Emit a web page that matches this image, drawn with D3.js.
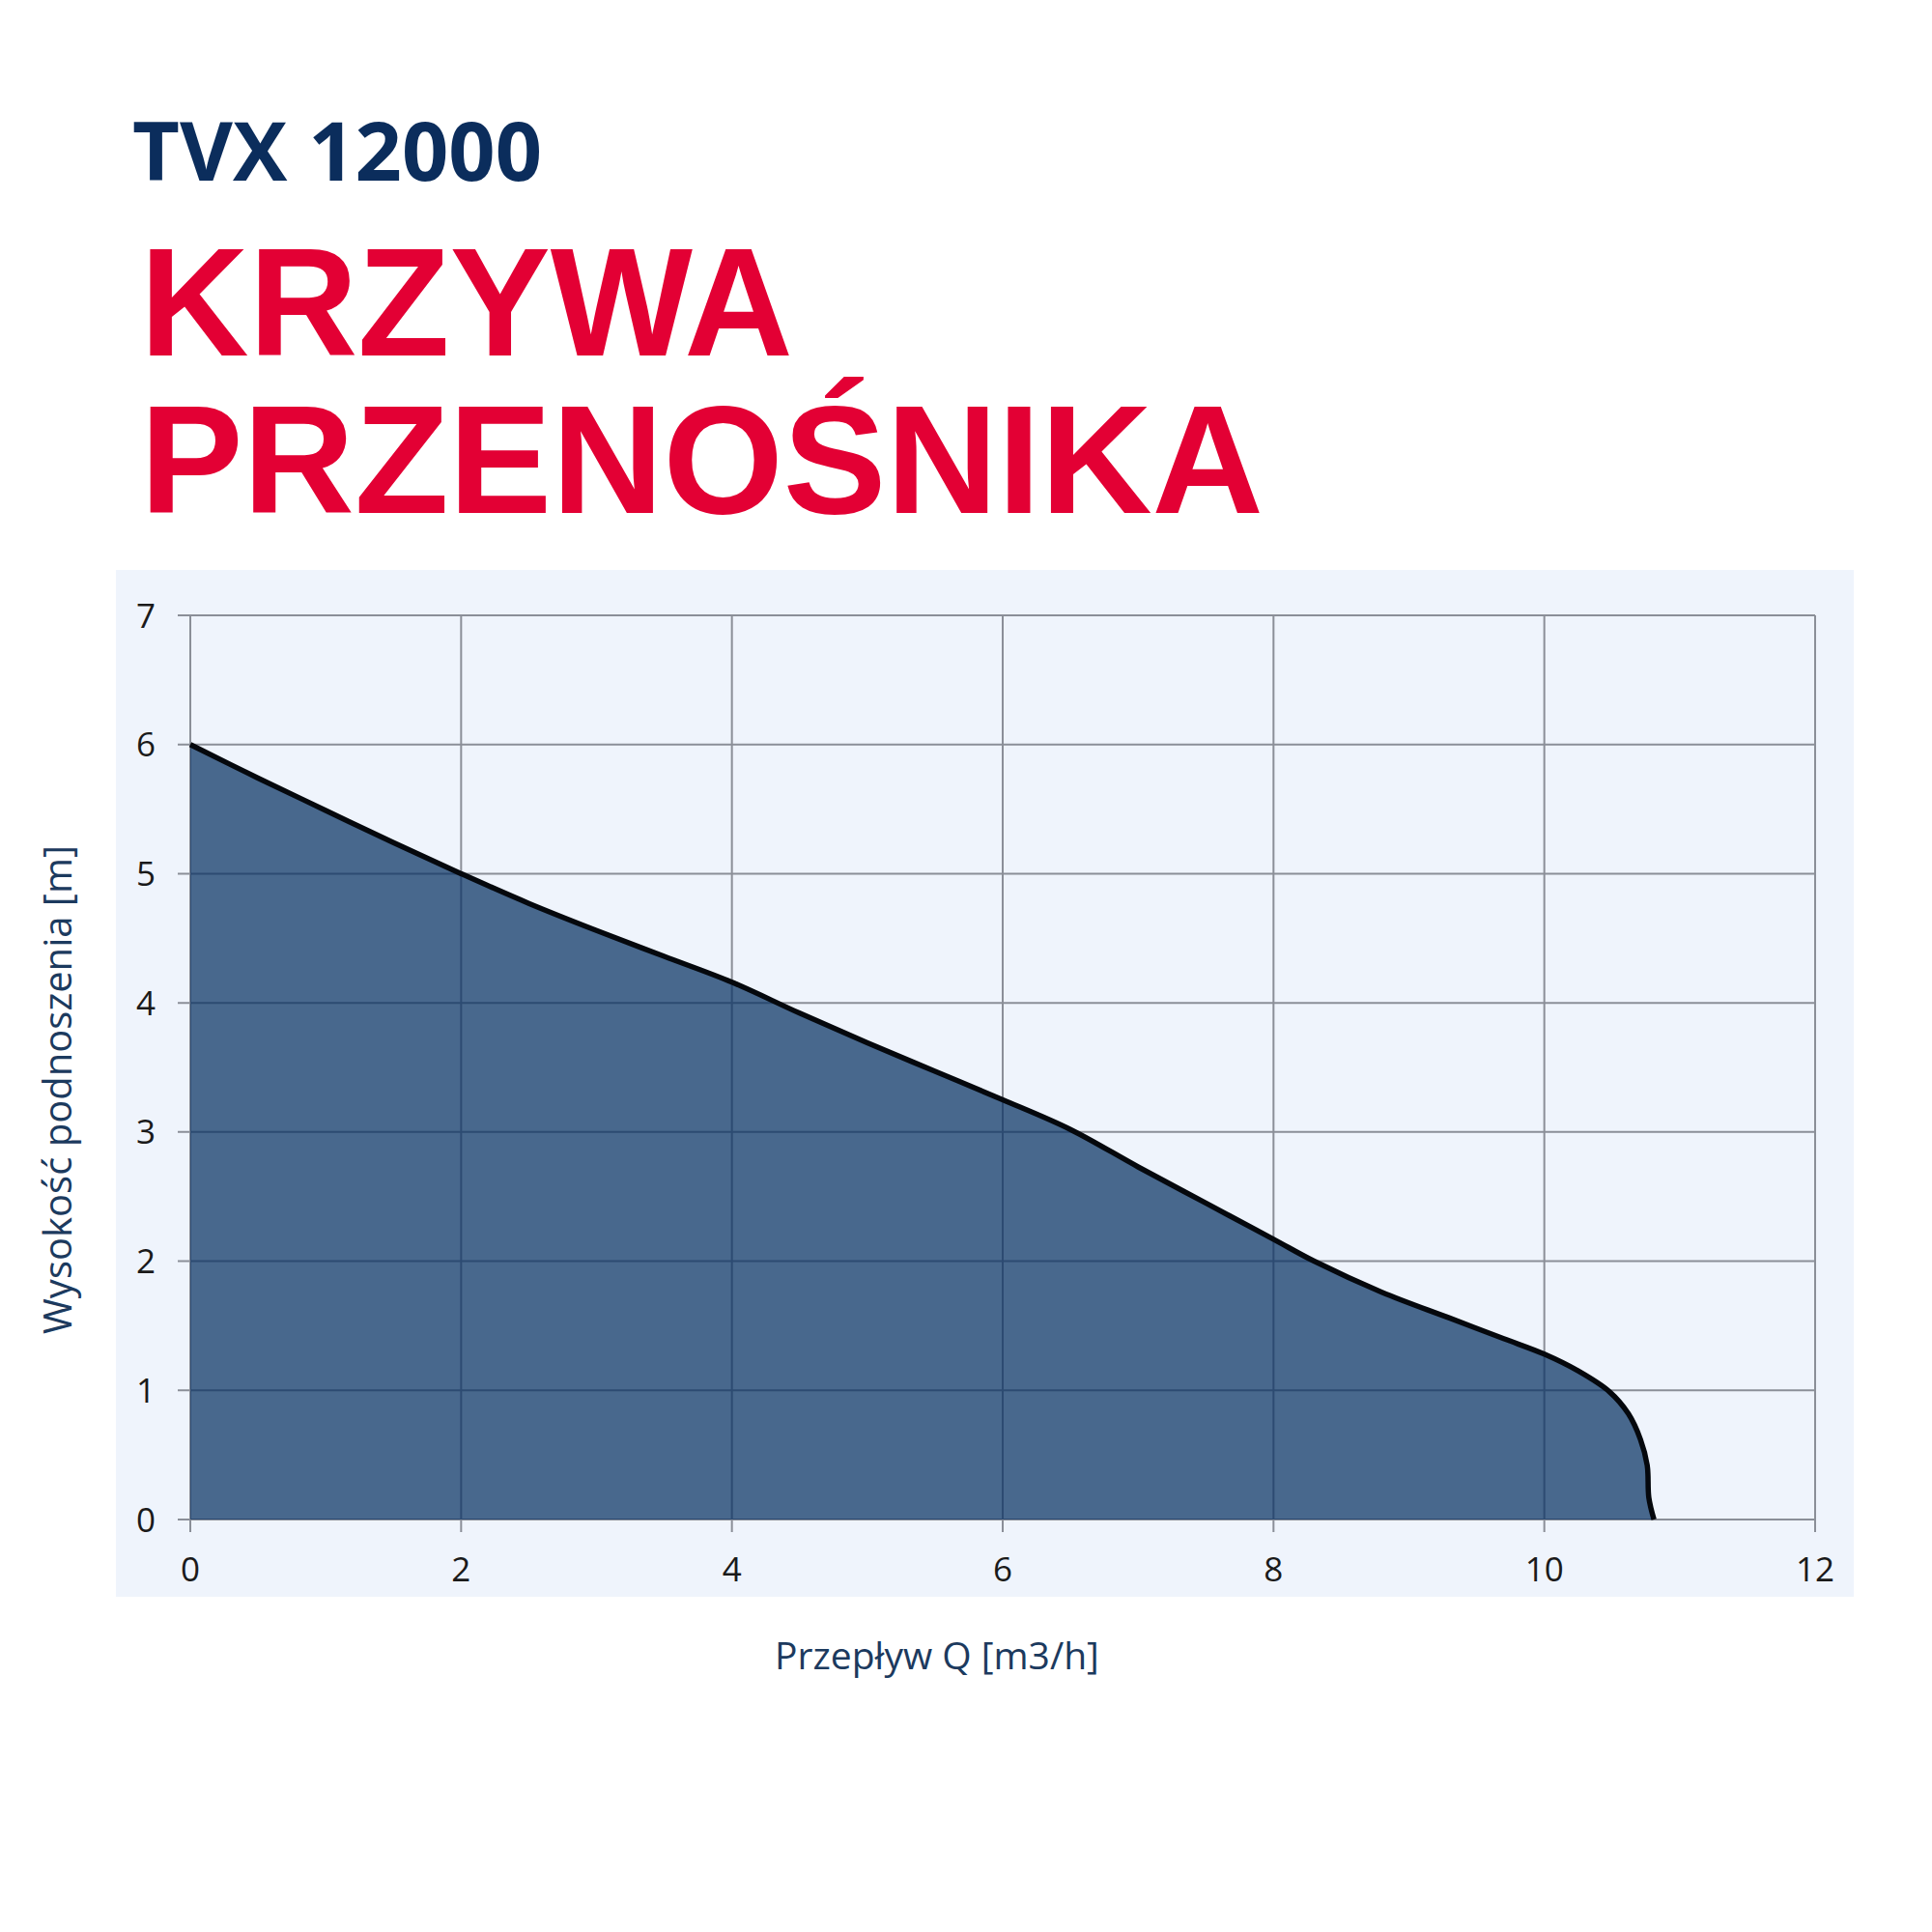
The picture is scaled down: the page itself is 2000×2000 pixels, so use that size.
<!DOCTYPE html>
<html>
<head>
<meta charset="utf-8">
<title>TVX 12000 - krzywa przenośnika</title>
<script src="https://d3js.org/d3.v7.min.js"></script>
<style>
body{
	margin: 0;
	background: #fff;
}
</style>
</head>
<body>
<div id="chart"></div>
<script>

// pump curve
var flow = [0, 0.5, 1, 1.5, 2, 2.5, 3, 3.5, 4, 4.5, 5, 5.5, 6, 6.5, 7, 7.5, 8, 8.3, 8.8, 9.3, 9.7, 10, 10.25, 10.48, 10.62, 10.71, 10.76, 10.772, 10.81];
var head = [6.0, 5.74, 5.49, 5.24, 5.0, 4.77, 4.56, 4.36, 4.16, 3.92, 3.69, 3.47, 3.25, 3.02, 2.73, 2.45, 2.17, 2.0, 1.76, 1.56, 1.40, 1.28, 1.15, 0.99, 0.82, 0.62, 0.42, 0.17, 0];
var xTicks = [0, 2, 4, 6, 8, 10, 12];
var yTicks = [0, 1, 2, 3, 4, 5, 6, 7];

var W = 2000, H = 2000;
var plot = {left: 197, right: 1879, top: 637, bottom: 1573};
var tickLen = 13;

var svg = d3.select("#chart")
	.append("svg")
	.attr("width", W)
	.attr("height", H);

// titles
svg.append("text")
	.attr("x", 137).attr("y", 187)
	.attr("font-family", "'Open Sans', sans-serif")
	.attr("font-weight", 700)
	.attr("font-size", 84)
	.attr("fill", "#0b2d5c")
	.attr("textLength", 424)
	.attr("lengthAdjust", "spacingAndGlyphs")
	.text("TVX 12000");

svg.append("text")
	.attr("x", 145).attr("y", 368)
	.attr("font-family", "'Liberation Sans', Arial, sans-serif")
	.attr("font-weight", 700)
	.attr("font-size", 160)
	.attr("fill", "#e30034")
	.attr("textLength", 676)
	.attr("lengthAdjust", "spacingAndGlyphs")
	.text("KRZYWA");

svg.append("text")
	.attr("x", 145).attr("y", 531)
	.attr("font-family", "'Liberation Sans', Arial, sans-serif")
	.attr("font-weight", 700)
	.attr("font-size", 160)
	.attr("fill", "#e30034")
	.attr("textLength", 1163)
	.attr("lengthAdjust", "spacingAndGlyphs")
	.text("PRZENOŚNIKA");

// panel behind the chart
svg.append("rect")
	.attr("x", 120).attr("y", 590)
	.attr("width", 1799).attr("height", 1063)
	.attr("fill", "#eff4fc");

var x = d3.scaleLinear().domain([0, 12]).range([plot.left, plot.right]);
var y = d3.scaleLinear().domain([0, 7]).range([plot.bottom, plot.top]);

// grid drawn twice: gray on the panel, dark blue where it sits on the filled area
function drawGrid(g, colour) {
	g.selectAll("line.v")
		.data(xTicks)
		.join("line")
		.attr("class", "v")
		.attr("x1", d => x(d)).attr("x2", d => x(d))
		.attr("y1", plot.top).attr("y2", plot.bottom + tickLen)
		.attr("stroke", colour)
		.attr("stroke-width", 2);
	g.selectAll("line.h")
		.data(yTicks)
		.join("line")
		.attr("class", "h")
		.attr("y1", d => y(d)).attr("y2", d => y(d))
		.attr("x1", plot.left - tickLen).attr("x2", plot.right)
		.attr("stroke", colour)
		.attr("stroke-width", 2);
}

drawGrid(svg.append("g"), "#8b8f98");

var pts = flow.map((q, i) => [q, head[i]]);

var area = d3.area()
	.x(d => x(d[0]))
	.y0(y(0))
	.y1(d => y(d[1]))
	.curve(d3.curveCatmullRom.alpha(0.5));

var line = d3.line()
	.x(d => x(d[0]))
	.y(d => y(d[1]))
	.curve(d3.curveCatmullRom.alpha(0.5));

svg.append("clipPath")
	.attr("id", "underCurve")
	.append("path")
	.attr("d", area(pts));

svg.append("path")
	.attr("d", area(pts))
	.attr("fill", "#48688d");

drawGrid(svg.append("g").attr("clip-path", "url(#underCurve)"), "#2d4b72");

svg.append("path")
	.attr("d", line(pts))
	.attr("fill", "none")
	.attr("stroke", "#05080d")
	.attr("stroke-width", 5.5)
	.attr("stroke-linejoin", "round");

// tick labels
svg.append("g")
	.selectAll("text")
	.data(yTicks)
	.join("text")
	.attr("x", 161)
	.attr("y", d => y(d))
	.attr("dy", "0.36em")
	.attr("text-anchor", "end")
	.attr("font-family", "'Open Sans', sans-serif")
	.attr("font-size", 35)
	.attr("fill", "#1a1a1a")
	.text(d => d);

svg.append("g")
	.selectAll("text")
	.data(xTicks)
	.join("text")
	.attr("x", d => x(d))
	.attr("y", 1637)
	.attr("text-anchor", "middle")
	.attr("font-family", "'Open Sans', sans-serif")
	.attr("font-size", 35)
	.attr("fill", "#1a1a1a")
	.text(d => d);

// axis titles
svg.append("text")
	.attr("x", 970).attr("y", 1728)
	.attr("text-anchor", "middle")
	.attr("font-family", "'Open Sans', sans-serif")
	.attr("font-size", 39)
	.attr("fill", "#1c3a5e")
	.text("Przepływ Q [m3/h]");

svg.append("text")
	.attr("transform", "translate(74,1128) rotate(-90)")
	.attr("text-anchor", "middle")
	.attr("font-family", "'Open Sans', sans-serif")
	.attr("font-size", 40)
	.attr("fill", "#1c3a5e")
	.text("Wysokość podnoszenia [m]");

</script>
</body>
</html>
